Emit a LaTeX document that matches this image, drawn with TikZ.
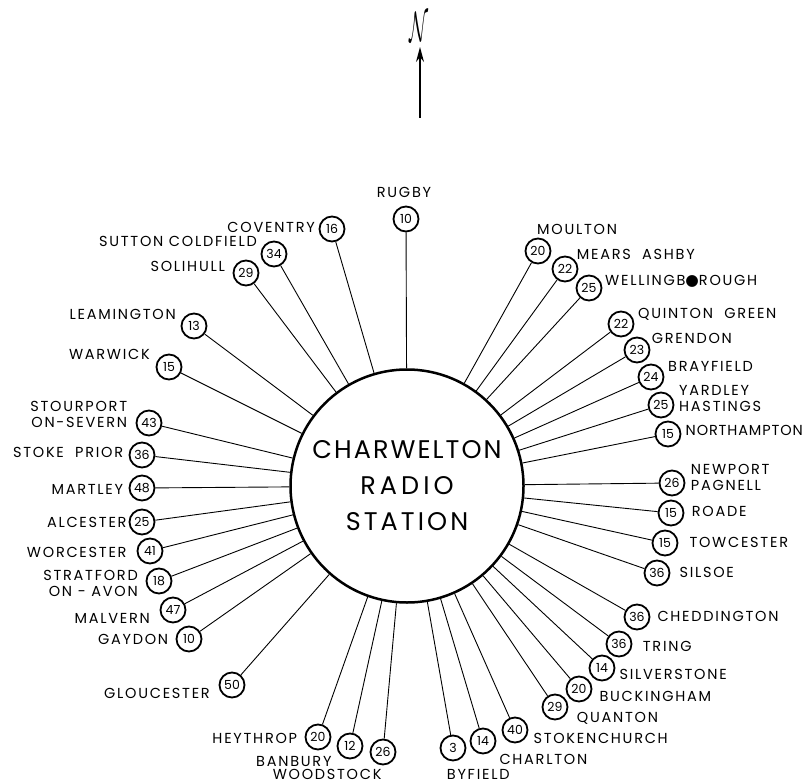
\documentclass[tikz,border=0pt]{standalone}
\usepackage{fontspec}
\setmainfont{Poppins}
\newfontfamily\myLabFam[LetterSpace=12]{Poppins}
\newfontfamily\myLabTight[LetterSpace=6]{Poppins}
\newfontfamily\myNumFam{Poppins}
\newfontfamily\myTA[LetterSpace=8]{Poppins}
\newfontfamily\myTB[LetterSpace=16]{Poppins}
\newfontfamily\myTC[LetterSpace=12]{Poppins}
\newfontfamily\myDot{DejaVu Sans}
\newcommand\myLab{\myLabFam\fontsize{14.5}{16}\selectfont}
\newcommand\myNum{\myNumFam\fontsize{12.5}{13}\selectfont}
\usetikzlibrary{arrows.meta}
\begin{document}
\begin{tikzpicture}[x=1pt,y=-1pt,
  num/.style={circle,draw,line width=1.8pt,minimum size=25pt,inner sep=0pt,font=\myNum},
  lab/.style={font=\myLab,inner sep=0pt},
  labl/.style={lab,anchor=base east},
  labr/.style={lab,anchor=base west},
  labl2/.style={lab,anchor=base east,align=right},
  labr2/.style={lab,anchor=base west,align=left},
  labc/.style={lab,anchor=base},
  conn/.style={line width=0.9pt},
  bigc/.style={circle,draw,line width=2.5pt,minimum size=233pt,inner sep=0pt,align=center,
    font=\fontsize{25.5}{36}\selectfont}]
\useasboundingbox (0,0) rectangle (810,783);
% north arrow
\coordinate (nb) at (420,118);
\coordinate (nt) at (420,47);
\draw[line width=1.3pt,-{Stealth[length=15pt,width=8pt]}] (nb) -- (nt);
\node[inner sep=0pt] (north) at (419,27.5) {\resizebox{19pt}{29pt}{$\mathcal{N}$}};
% station
\node[bigc] (C) at (407,486) {{\myTA CHARWELTON}\\{\myTB RADIO}\\{\myTC STATION}};
% numbers
\foreach \n/\x/\y/\v in {
 rugby/406/219/10, coventry/332/229/16, sutton/274/254/34, solihull/246/273/29,
 leamington/194/326/13, warwick/169/367/15, stourport/149/423/43, stoke/142/455/36,
 martley/142/488/48, alcester/142/522/25, worcester/150/551/41, stratford/159/581/18,
 malvern/173/610/47, gaydon/189/639/10, gloucester/232/685/50, heythrop/318/737/20,
 banbury/350/746/12, woodstock/383/752/26, byfield/453/748/3, charlton/483/741/14,
 stokenchurch/515/730/40, quanton/555/707/29, buckingham/579/689/20, silverstone/602/668/14,
 tring/619/644/36, cheddington/637/617/36, silsoe/657/573/36, towcester/665/543/15,
 roade/671/513/15, newport/672/483/26, northampton/668/434/15, yardley/661/405/25,
 brayfield/651/377/24, grendon/637/350/23, quinton/621/324/22, wellingborough/589/288/25,
 mears/565/269/22, moulton/538/251/20}
 {\node[num] (\n) at (\x,\y) {\v};
  \draw[conn] (\n) -- (C);}
% labels left
\node[labc] (lrugby) at (404,198) {RUGBY};
\node[labl] (lcoventry) at (315,232.7) {COVENTRY};
\node[labl] (lsutton) at (257,246.7) {SUTTON COLDFIELD};
\node[labl] (lsolihull) at (225,272) {SOLIHULL};
\node[labl] (lleamington) at (176,319) {LEAMINGTON};
\node[labl] (lwarwick) at (150,359.3) {WARWICK};
\node[labl2] (lstourport) at (127.3,427.7) {STOURPORT\\ON-SEVERN};
\node[labl] (lstoke) at (123.3,457.7) {STOKE\ \ PRIOR};
\node[labl] (lmartley) at (123.3,494.3) {MARTLEY};
\node[labl] (lalcester) at (126.7,527.7) {ALCESTER};
\node[labl] (lworcester) at (126.7,557.7) {WORCESTER};
\node[labl2] (lstratford) at (138,596.7) {STRATFORD\\ON - AVON};
\node[labl] (lmalvern) at (150,623.3) {MALVERN};
\node[labl] (lgaydon) at (168.3,644.3) {GAYDON};
\node[labl] (lgloucester) at (210,698.3) {GLOUCESTER};
\node[labl] (lheythrop) at (297.3,743.3) {HEYTHROP};
\node[labl] (lbanbury) at (331.7,766.7) {BANBURY};
\node[labl] (lwoodstock) at (381.7,779.5) {WOODSTOCK};
% labels right
\node[labr] (lbyfield) at (446.7,779.5) {BYFIELD};
\node[labr] (lcharlton) at (499.3,764.3) {CHARLTON};
\node[labr] (lstokenchurch) at (533.3,743.3) {STOKENCHURCH};
\node[labr] (lquanton) at (576.7,722.3) {QUANTON};
\node[labr] (lbuckingham) at (599.3,701) {BUCKINGHAM};
\node[labr] (lsilverstone) at (619.3,679) {SILVERSTONE};
\node[labr] (ltring) at (642.7,651.7) {TRING};
\node[labr] (lcheddington) at (657.3,621) {CHEDDINGTON};
\node[labr] (lsilsoe) at (679.3,577.7) {SILSOE};
\node[labr] (ltowcester) at (689.3,547.7) {TOWCESTER};
\node[labr] (lroade) at (691.7,516.7) {ROADE};
\node[labr2] (lnewport) at (690.7,490) {NEWPORT\\PAGNELL};
\node[labr] (lnorthampton) at (685.5,435) {\myLabTight NORTHAMPTON};
\node[labr2] (lyardley) at (679,411.7) {YARDLEY\\HASTINGS};
\node[labr] (lbrayfield) at (668,371.7) {BRAYFIELD};
\node[labr] (lgrendon) at (651.7,343.3) {GRENDON};
\node[labr] (lquinton) at (638,318.3) {QUINTON\ \ GREEN};
\node[labr] (lwellingborough) at (605,285) {WELLINGB{\myDot\fontsize{15.5}{15}\selectfont ●}ROUGH};
\node[labr] (lmears) at (576.7,260) {MEARS\ \ ASHBY};
\node[labr] (lmoulton) at (537,234.3) {MOULTON};
\end{tikzpicture}
\end{document}
